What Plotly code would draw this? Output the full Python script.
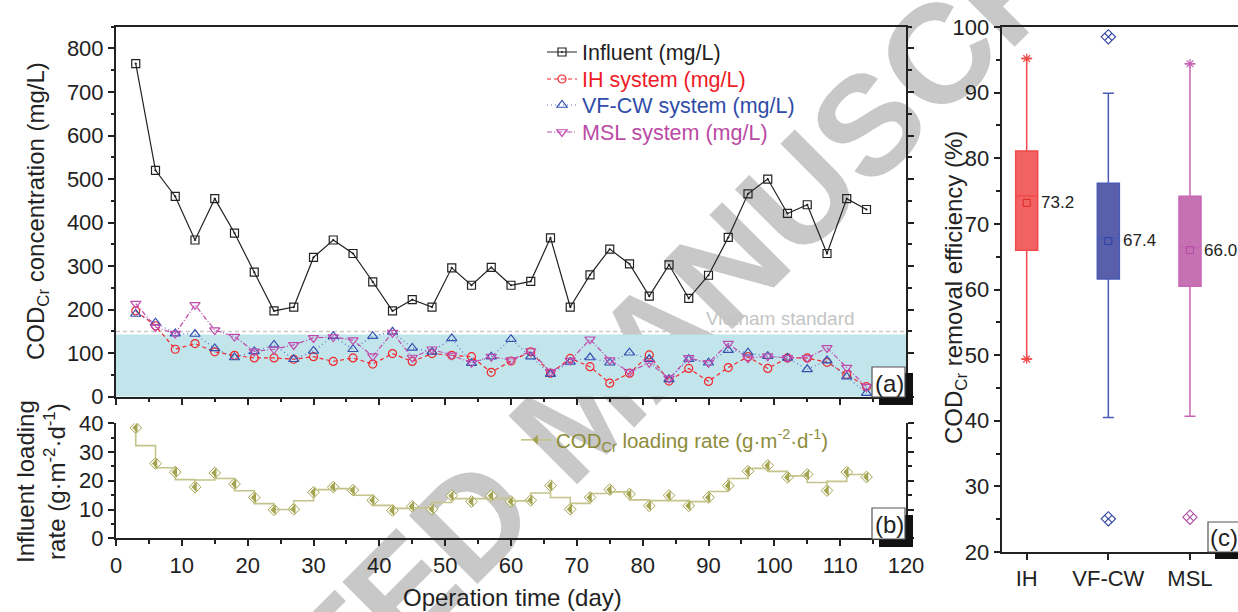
import plotly.graph_objects as go

# ---------------- data ----------------
days = [3, 6, 9, 12, 15, 18, 21, 24, 27, 30, 33, 36, 39, 42, 45, 48, 51, 54, 57, 60,
        63, 66, 69, 72, 75, 78, 81, 84, 87, 90, 93, 96, 99, 102, 105, 108, 111, 114]
influent = [765, 520, 460, 360, 455, 376, 286, 197, 206, 320, 360, 329, 264, 197, 223, 206, 296, 256, 297, 256,
            265, 365, 206, 280, 339, 305, 231, 303, 226, 279, 366, 466, 500, 421, 441, 329, 455, 430]
ih = [197, 163, 109, 122, 103, 95, 89, 89, 86, 92, 81, 89, 75, 99, 81, 99, 95, 92, 56, 82,
      103, 54, 88, 69, 31, 54, 96, 36, 65, 35, 67, 92, 65, 89, 89, 79, 51, 23]
vfcw = [190, 170, 145, 144, 111, 90, 104, 119, 86, 105, 139, 109, 139, 149, 112, 103, 134, 77, 92, 132,
        92, 52, 80, 90, 78, 101, 86, 40, 86, 78, 107, 101, 93, 89, 63, 83, 46, 8]
msl = [214, 160, 145, 211, 153, 138, 104, 109, 119, 135, 137, 130, 93, 147, 90, 109, 95, 78, 92, 84,
       105, 57, 83, 132, 84, 57, 78, 42, 89, 78, 122, 88, 93, 89, 89, 112, 67, 23]
loading = [38.4, 26.0, 23.0, 17.8, 22.7, 18.9, 14.2, 9.9, 10.1, 16.0, 17.8, 16.7, 13.2, 9.7, 11.1, 10.1, 14.8, 12.8, 14.8, 12.8,
           13.2, 18.3, 10.1, 14.2, 16.9, 15.4, 11.3, 14.9, 11.3, 14.2, 18.3, 23.3, 25.3, 21.2, 22.2, 16.6, 23.0, 21.3]
vietnam_standard = 150
shaded_top = 143

systems = ["IH", "VF-CW", "MSL"]
box_q1 = [66.0, 61.6, 60.5]
box_median = [74.3, 67.8, 66.4]
box_q3 = [81.1, 76.2, 74.2]
box_mean = [73.2, 67.4, 66.0]
box_low = [49.4, 40.5, 40.7]
box_high = [95.2, 89.9, 94.4]
minmax_marks = {"IH": [95.2, 49.4], "VF-CW": [], "MSL": [94.4]}
outliers = {"IH": [], "VF-CW": [98.5, 25.05], "MSL": [25.3]}

# ---------------- style ----------------
W, H = 1238, 612
FONT = "Liberation Sans, Arial, sans-serif"
AX = "#222222"
C_INF = "#222222"
C_IH = "#F2282C"
C_VF = "#3552B0"
C_MSL = "#C04BAE"
C_OLIVE = "#A3A350"
C_OLIVE_LINE = "#C3C38A"
C_OLIVE_TXT = "#8C8C3A"
box_fill = ["#F16262", "#5A5FAB", "#C671B1"]
box_line = ["#F04A4A", "#4A5BB5", "#C866B6"]
box_dark = ["#E02828", "#2E40A0", "#B04CA2"]


def px(x):
    return x / W


def py(y):
    return 1 - y / H


fig = go.Figure()

# ---- (a) concentrations ----
series = [
    (influent, '<span style="color:#222222">Influent (mg/L)</span>', dict(color=C_INF, width=1.2),
     dict(symbol="square-open-dot", size=8, color=C_INF, line=dict(width=1.2)), "legend"),
    (ih, '<span style="color:#EE1C25">IH system (mg/L)</span>', dict(color=C_IH, width=1.2, dash="4px,3px"),
     dict(symbol="circle-open", size=8, color=C_IH, line=dict(width=1.2)), "legend3"),
    (vfcw, '<span style="color:#2F4DA8">VF-CW system (mg/L)</span>', dict(color="#5E70C0", width=1.2, dash="1px,3px"),
     dict(symbol="triangle-up-open", size=9, color=C_VF, line=dict(width=1.2)), "legend4"),
    (msl, '<span style="color:#BA4AA5">MSL system (mg/L)</span>', dict(color=C_MSL, width=1.2, dash="5px,2px,1px,2px"),
     dict(symbol="triangle-down-open", size=9, color=C_MSL, line=dict(width=1.2)), "legend5"),
]
for vals, name, line, marker, lg in series:
    fig.add_trace(go.Scatter(x=days, y=vals, mode="lines+markers", xaxis="x", yaxis="y",
                             name=name, line=line, marker=marker, legend=lg))

# ---- (b) loading rate ----
fig.add_trace(go.Scatter(x=days, y=loading, mode="markers", xaxis="x2", yaxis="y2", showlegend=False,
                         marker=dict(symbol="diamond", size=9, color="white",
                                     line=dict(color=C_OLIVE, width=1))))
fig.add_trace(go.Scatter(x=days, y=loading, mode="lines+markers", xaxis="x2", yaxis="y2",
                         line=dict(color=C_OLIVE_LINE, width=1.6, shape="vhv"),
                         marker=dict(symbol="triangle-nw", size=8.3, angle=-45, color=C_OLIVE,
                                     line=dict(width=0)),
                         name="COD<sub>Cr</sub> loading rate (g·m<sup>-2</sup>·d<sup>-1</sup>)",
                         legend="legend2"))

# ---- (c) removal efficiency boxes ----
for i, s in enumerate(systems):
    xpos = i + 1
    fig.add_trace(go.Box(x=[xpos], q1=[box_q1[i]], median=[box_median[i]], q3=[box_q3[i]],
                         lowerfence=[box_low[i]], upperfence=[box_high[i]],
                         xaxis="x3", yaxis="y3", showlegend=False, boxpoints=False,
                         width=0.27, whiskerwidth=0.5,
                         fillcolor=box_fill[i], line=dict(color=box_line[i], width=1.5)))
    fig.add_trace(go.Scatter(x=[xpos], y=[box_mean[i]], mode="markers", xaxis="x3", yaxis="y3",
                             showlegend=False,
                             marker=dict(symbol="square-open", size=7, color=box_dark[i], line=dict(width=1))))
    if minmax_marks[s]:
        fig.add_trace(go.Scatter(x=[xpos] * len(minmax_marks[s]), y=minmax_marks[s], mode="markers",
                                 xaxis="x3", yaxis="y3", showlegend=False,
                                 marker=dict(symbol="asterisk-open", size=8, color=box_line[i],
                                             line=dict(width=1.3, color=box_line[i]))))
    if outliers[s]:
        fig.add_trace(go.Scatter(x=[xpos] * len(outliers[s]), y=outliers[s], mode="markers",
                                 xaxis="x3", yaxis="y3", showlegend=False,
                                 marker=dict(symbol="diamond-x-open", size=11, color=box_dark[i],
                                             line=dict(width=1.1, color=box_dark[i]))))

tickfont = dict(family=FONT, size=22, color=AX)
common = dict(showline=True, linewidth=2, linecolor=AX, ticks="outside", ticklen=6, tickwidth=2,
              tickcolor=AX, showgrid=False, zeroline=False, tickfont=tickfont, automargin=False)
minor5 = dict(ticks="outside", dtick=5, ticklen=3.5, tickwidth=2, tickcolor=AX)

leg_common = dict(xanchor="left", yanchor="middle", bgcolor="rgba(0,0,0,0)", itemwidth=30,
                  font=dict(family=FONT, size=21.5))

fig.update_layout(
    template="none",
    width=W, height=H, margin=dict(l=0, r=0, t=0, b=0, pad=0, autoexpand=False), autosize=False,
    paper_bgcolor="white", plot_bgcolor="rgba(0,0,0,0)",
    font=dict(family=FONT, size=20, color=AX),
    xaxis=dict(domain=[px(116), px(906)], range=[0, 120], anchor="y", dtick=10, tick0=0,
               showticklabels=False, mirror=True, minor=minor5, **common),
    yaxis=dict(domain=[py(396.7), py(26.7)], range=[0, 850], anchor="x", dtick=100, tick0=0, mirror="ticks",
               minor=dict(ticks="outside", dtick=50, ticklen=3.5, tickwidth=2, tickcolor=AX), **common),
    xaxis2=dict(domain=[px(116), px(906)], range=[0, 120], anchor="y2", dtick=10, tick0=0,
                minor=minor5, **common),
    yaxis2=dict(domain=[py(538.3), py(423.2)], range=[0, 40], anchor="x2", dtick=10, tick0=0, mirror="ticks",
                minor=minor5, **common),
    xaxis3=dict(domain=[px(1001.7), 1.0], range=[0.694, 3.588], anchor="y3",
                tickvals=[1, 2, 3], ticktext=systems, mirror=True, **common),
    yaxis3=dict(domain=[py(552), py(27)], range=[20, 100], anchor="x3", dtick=10, tick0=0,
                minor=minor5, **common),
    legend=dict(x=px(542), y=py(52), **leg_common),
    legend3=dict(x=px(542), y=py(79), **leg_common),
    legend4=dict(x=px(542), y=py(105), **leg_common),
    legend5=dict(x=px(542), y=py(132), **leg_common),
    legend2=dict(x=px(516), y=py(440), xanchor="left", yanchor="middle", bgcolor="rgba(0,0,0,0)",
                 font=dict(family=FONT, size=20.5, color=C_OLIVE_TXT), itemwidth=30),
)

shapes = [
    # watermark
    dict(type="rect", xref="paper", yref="paper", x0=px(471), x1=px(671), y0=py(503), y1=py(303),
         line=dict(width=0), fillcolor="rgba(0,0,0,0)", layer="below",
         label=dict(text="ACCEPTED MANUSCRIPT", textangle=-45, textposition="middle center",
                    font=dict(family=FONT, size=141, color="#C8C8C8", weight="bold"))),
    # compliant region and standard line
    dict(type="rect", xref="x", yref="y", x0=0, x1=120, y0=0, y1=shaded_top,
         fillcolor="#C2E5EC", line=dict(width=0), layer="below"),
    dict(type="line", xref="x", yref="y", x0=0, x1=120, y0=vietnam_standard, y1=vietnam_standard,
         line=dict(color="#C8C8C8", width=1.5, dash="4px,3px"), layer="below"),
]
for (bx0, by0, bx1, by1, wx0, wy0, wx1, wy1) in [
        (879, 373, 913, 405, 872, 367, 905, 397),
        (879, 515, 913, 547, 872, 508, 905, 539),
        (1215, 528, 1240, 559, 1208, 522, 1240, 552)]:
    shapes.append(dict(type="rect", xref="paper", yref="paper", x0=px(bx0), x1=px(bx1), y0=py(by1), y1=py(by0),
                       fillcolor="#111111", line=dict(width=0), layer="above"))
    shapes.append(dict(type="rect", xref="paper", yref="paper", x0=px(wx0), x1=px(wx1), y0=py(wy1), y1=py(wy0),
                       fillcolor="white", line=dict(width=1.2, color="#555555"), layer="above"))
fig.update_layout(shapes=shapes)

ann = []
for txt, x, y in [("(a)", 889, 383), ("(b)", 889, 524), ("(c)", 1224, 537)]:
    ann.append(dict(text=txt, xref="paper", yref="paper", x=px(x), y=py(y), showarrow=False,
                    xanchor="center", yanchor="middle", font=dict(family=FONT, size=24, color=AX)))
ann.append(dict(text="Vietnam standard", xref="paper", yref="paper", x=px(780), y=py(318), showarrow=False,
                xanchor="center", yanchor="middle", font=dict(family=FONT, size=19, color="#C4C4C4")))
ann.append(dict(text="COD<sub>Cr</sub> concentration (mg/L)", xref="paper", yref="paper", x=px(37), y=py(211),
                textangle=-90, showarrow=False, xanchor="center", yanchor="middle",
                font=dict(family=FONT, size=24, color=AX)))
ann.append(dict(text="Influent loading<br>rate (g·m<sup>-2</sup>·d<sup>-1</sup>)", xref="paper", yref="paper",
                x=px(41), y=py(482), textangle=-90, showarrow=False, xanchor="center", yanchor="middle",
                font=dict(family=FONT, size=24, color=AX)))
ann.append(dict(text="Operation time (day)", xref="paper", yref="paper", x=px(512), y=py(597),
                showarrow=False, xanchor="center", yanchor="middle", font=dict(family=FONT, size=24, color=AX)))
ann.append(dict(text="COD<sub>Cr</sub> removal efficiency (%)", xref="paper", yref="paper", x=px(955), y=py(288),
                textangle=-90, showarrow=False, xanchor="center", yanchor="middle",
                font=dict(family=FONT, size=24, color=AX)))
for i, s in enumerate(systems):
    ann.append(dict(text=f"{box_mean[i]:.1f}", xref="x3", yref="y3", x=i + 1 + 0.15, y=box_mean[i],
                    showarrow=False, xanchor="left", yanchor="middle",
                    font=dict(family=FONT, size=17, color=AX)))
fig.update_layout(annotations=ann)

fig.write_html("out.html",
               post_script="document.body.style.margin='0';document.body.style.padding='0';"
                           "document.documentElement.style.overflow='hidden';")
